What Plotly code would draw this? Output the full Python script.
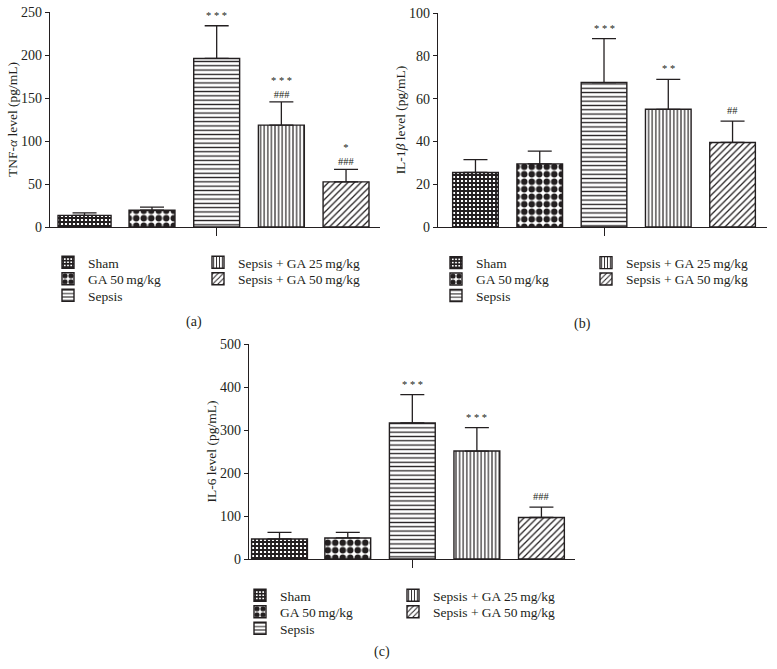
import plotly.graph_objects as go

# ---------------- data ----------------
categories = ["Sham", "GA 50\u2009mg/kg", "Sepsis",
              "Sepsis + GA 25\u2009mg/kg", "Sepsis + GA 50\u2009mg/kg"]

tnf_mean = [13.5, 19.5, 196, 118.5, 52.5]
tnf_sem = [3, 3.5, 38, 27, 14.5]
tnf_sig = ["", "", "* * *", "* * *<br>###", "*<br>###"]

il1b_mean = [25.5, 29.5, 67.5, 55, 39.5]
il1b_sem = [6, 6, 20.5, 14, 10]
il1b_sig = ["", "", "* * *", "* *", "##"]

il6_mean = [46.5, 49, 316.5, 251, 96.5]
il6_sem = [15.5, 13, 66, 54.5, 24]
il6_sig = ["", "", "* * *", "* * *", "###"]

y_titles = ["TNF-<i>\u03b1</i> level (pg/mL)", "IL-1<i>\u03b2</i> level (pg/mL)", "IL-6 level (pg/mL)"]
captions = ["(a)", "(b)", "(c)"]

# ---------------- styles / geometry ----------------
INK = "#231f20"
FONT = "Liberation Serif, DejaVu Serif, serif"
W, H = 777, 669   # body margin removed in post_script, figure fills the page


def fx(px):
    return px / W


def fy(py):
    return 1 - py / H


patterns = [
    dict(shape="+", size=4, solidity=0.72),
    dict(shape=".", size=7.5, solidity=0.6),
    dict(shape="-", size=4.3, solidity=0.3),
    dict(shape="|", size=3.6, solidity=0.32),
    dict(shape="/", size=4.6, solidity=0.28),
]
# legend grid: (column, row) for each category
legend_cell = [(0, 0), (0, 1), (0, 2), (1, 0), (1, 1)]

panels = [
    dict(mean=tnf_mean, sem=tnf_sem, sig=tnf_sig, ymax=250, dtick=50,
         box=(50, 380, 12, 227), xr=[-0.577, 4.525],
         sham_w=0.82, sham_off=-0.453,
         leg_x=(86, 236), leg_y=(262, 278.5, 295), cap=(194, 322)),
    dict(mean=il1b_mean, sem=il1b_sem, sig=il1b_sig, ymax=100, dtick=20,
         box=(438, 767, 13, 227), xr=[-0.583, 4.536],
         sham_w=0.71, sham_off=-0.355,
         leg_x=(474, 624), leg_y=(262.3, 278.8, 295.3), cap=(582, 324)),
    dict(mean=il6_mean, sem=il6_sem, sig=il6_sig, ymax=500, dtick=100,
         box=(249, 575, 344, 559), xr=[-0.53, 4.52],
         sham_w=0.865, sham_off=-0.49,
         leg_x=(278, 431), leg_y=(595, 611.5, 628), cap=(382, 652)),
]

TEXT_OFF = 38   # px from legend left edge to its text
TOP_OFF = 15    # px from legend top to row centre

fig = go.Figure()
annotations = []
layout_extra = {}
leg_count = 0

for p_i, p in enumerate(panels):
    sfx = "" if p_i == 0 else str(p_i + 1)
    xa, ya = "x" + sfx, "y" + sfx
    x0, x1, y0, y1 = p["box"]
    for c_i, cat in enumerate(categories):
        leg_count += 1
        leg_name = "legend" if leg_count == 1 else "legend" + str(leg_count)
        col, row = legend_cell[c_i]
        layout_extra[leg_name] = dict(
            x=fx(p["leg_x"][col] - TEXT_OFF), y=fy(p["leg_y"][row] - TOP_OFF),
            xanchor="left", yanchor="top", orientation="v",
            bgcolor="rgba(0,0,0,0)", borderwidth=0, itemwidth=30,
            font=dict(family=FONT, size=13.5, color=INK),
            itemclick=False, itemdoubleclick=False)

        w = p["sham_w"] if c_i == 0 else 0.71
        off = p["sham_off"] if c_i == 0 else -0.355
        fig.add_trace(go.Bar(
            x=[cat], y=[p["mean"][c_i]], name=cat,
            xaxis=xa, yaxis=ya,
            width=[w], offset=[off],
            marker=dict(color="white",
                        line=dict(color=INK, width=1.4),
                        pattern=dict(fillmode="overlay", fgcolor=INK, bgcolor="white",
                                     fgopacity=1, **patterns[c_i])),
            error_y=dict(type="data", symmetric=False, array=[p["sem"][c_i]],
                         arrayminus=[0], color=INK, thickness=1.3, width=12),
            legend=leg_name, showlegend=True,
        ))
        sig = p["sig"][c_i]
        if sig:
            annotations.append(dict(
                x=cat, y=p["mean"][c_i] + p["sem"][c_i], xref=xa, yref=ya,
                text=sig, showarrow=False, yanchor="bottom",
                yshift=0 if "<br>" in sig else 3,
                font=dict(family=FONT, size=10.5, color=INK)))
    annotations.append(dict(
        x=fx(p["cap"][0]), y=fy(p["cap"][1]), xref="paper", yref="paper",
        text=captions[p_i], showarrow=False, xanchor="center", yanchor="middle",
        font=dict(family=FONT, size=14, color=INK)))

    layout_extra["xaxis" + sfx] = dict(
        domain=[fx(x0), fx(x1)], anchor=ya, type="category", categoryorder="array",
        categoryarray=categories, range=p["xr"], showline=True, linecolor=INK,
        linewidth=1.3, showgrid=False, zeroline=False, ticks="outside",
        tickvals=["Sepsis"], ticktext=[""], ticklen=8, tickwidth=1.3,
        tickcolor=INK, showticklabels=False, fixedrange=True, automargin=False)
    layout_extra["yaxis" + sfx] = dict(
        domain=[fy(y1), fy(y0)], anchor=xa, range=[0, p["ymax"]], dtick=p["dtick"],
        tick0=0, showline=True, linecolor=INK, linewidth=1.3, showgrid=False,
        zeroline=False, ticks="outside", ticklen=4, tickwidth=1.3, tickcolor=INK,
        tickfont=dict(family=FONT, size=14, color=INK), automargin=False,
        ticklabeloverflow="allow", fixedrange=True,
        title=dict(text=y_titles[p_i], standoff=0,
                   font=dict(family=FONT, size=13.5, color=INK)))

fig.update_layout(
    template="none",
    width=W, height=H, margin=dict(l=0, r=0, t=0, b=0, pad=0, autoexpand=False),
    paper_bgcolor="white", plot_bgcolor="white", barmode="overlay",
    annotations=annotations, font=dict(family=FONT, color=INK),
    hovermode=False,
    **layout_extra)

fig.write_html("out.html",
               config={"displayModeBar": False, "staticPlot": False},
               post_script="document.body.style.margin='0px';"
                           "document.body.style.overflow='hidden';")
